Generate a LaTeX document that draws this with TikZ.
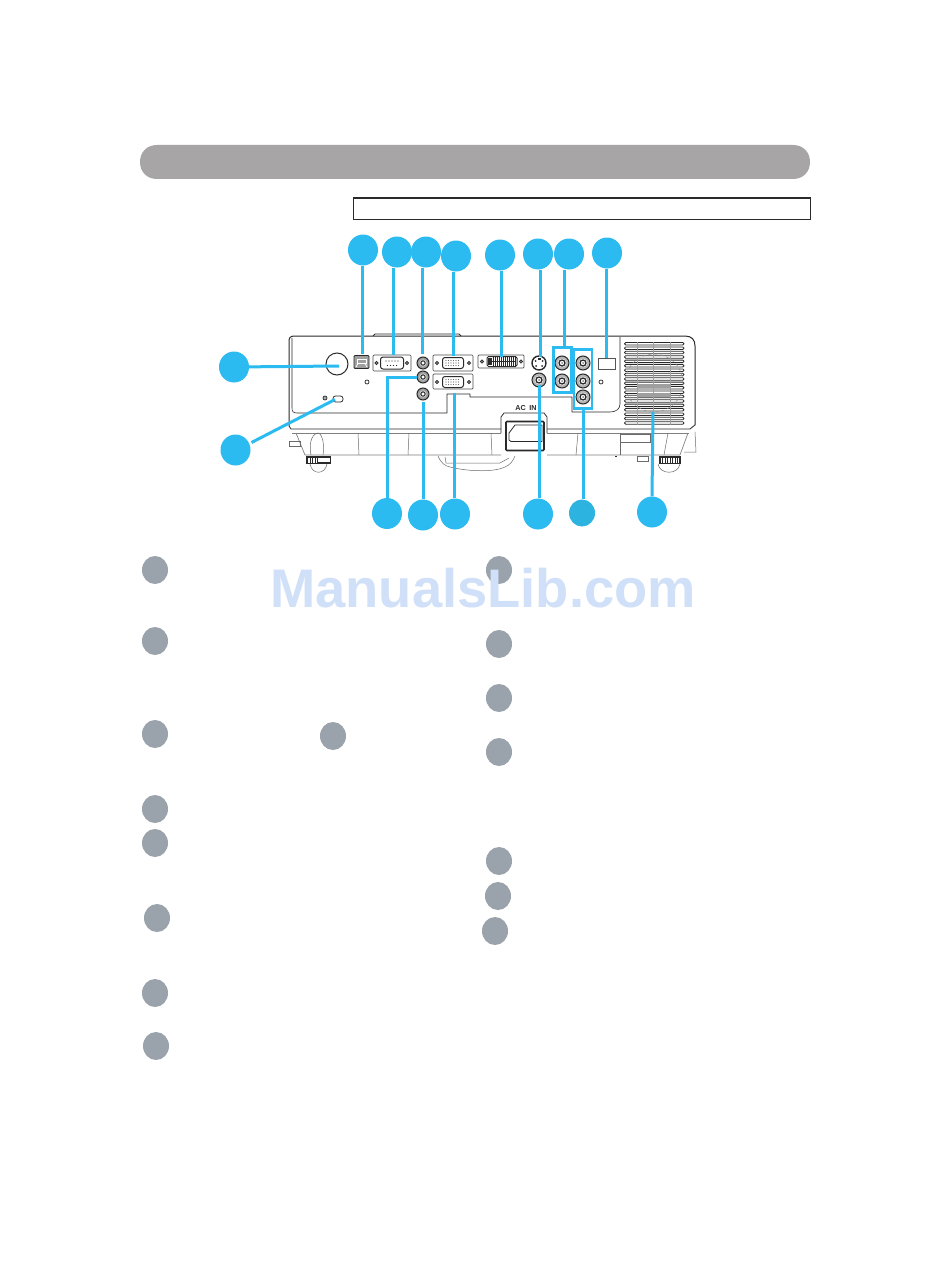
\documentclass[tikz,border=0pt]{standalone}
\usepackage{fontspec}
\setmainfont{Liberation Sans}
\usetikzlibrary{shapes.geometric}
\definecolor{bluec}{HTML}{2CBBF0}
\definecolor{blued}{HTML}{2DB3DF}
\definecolor{grayc}{HTML}{9AA2AB}
\definecolor{barc}{HTML}{A7A5A6}
\definecolor{wm}{HTML}{CFE0F8}
\definecolor{ink}{HTML}{2A2A2A}
\tikzset{
  callout/.style={ellipse,fill=bluec,inner sep=0pt,minimum width=30pt,minimum height=31pt},
  itemdot/.style={ellipse,fill=grayc,inner sep=0pt,minimum width=26pt,minimum height=28pt},
  lead/.style={draw=bluec,line width=3pt},
  body/.style={draw=ink,line width=.8pt,line join=round},
  skirt/.style={draw=ink!60,line width=.7pt,line join=round},
  thin part/.style={draw=ink!70,line width=.5pt},
  jackpart/.style={circle,draw=ink,fill=white,line width=1pt,inner sep=0pt},
  panelbox/.style={draw=ink!85,fill=white,line width=.7pt,rounded corners=1pt},
  shell/.style={draw=ink,fill=white,line width=1pt,rounded corners=2.5pt},
}
\newcommand{\rcajack}[3]{%
  \node[jackpart,minimum size=14pt,fill=ink!35] (#1) at (#2,#3) {};
  \fill[white] (#2,#3) circle (4.3pt);
  \draw[ink,line width=1.3pt] (#2,#3) circle (3pt);
  \fill[ink!60] (#2,#3) circle (1pt);
}
\newcommand{\minijack}[3]{%
  \node[jackpart,minimum size=12pt,fill=ink!45] (#1) at (#2,#3) {};
  \fill[white] (#2,#3) circle (3.4pt);
  \draw[ink,line width=1.1pt] (#2,#3) circle (2.2pt);
}
\newcommand{\screw}[2]{\draw[ink,fill=ink!50,line width=.6pt] (#1,#2) circle (1.6pt);}
\newcommand{\vgaport}[3]{%
  \node[shell,minimum width=21pt,minimum height=11pt,inner sep=0pt] (#1) at (#2,#3) {};
  \foreach \k in {-7,-4.5,...,7.1} {\fill[ink!70] (#2+\k,#3-2.5) circle (.55pt);\fill[ink!70] (#2+\k,#3) circle (.55pt);\fill[ink!70] (#2+\k,#3+2.5) circle (.55pt);}
}
\begin{document}
\begin{tikzpicture}[x=1pt,y=-1pt]
\useasboundingbox (0,0) rectangle (950,1284);
\fill[white] (0,0) rectangle (950,1284);
% header
\fill[barc] (157,145) -- (793,145) .. controls (803,145) and (810,152) .. (810,162) .. controls (810,172) and (803,179) .. (793,179) -- (157,179) .. controls (147,179) and (140,172) .. (140,162) .. controls (140,152) and (147,145) .. (157,145) -- cycle;
\node[draw=ink,line width=1pt,fill=white,minimum width=457pt,minimum height=21pt,inner sep=0pt] (frame) at (581.5,208.5) {};
% projector: top bump
\draw[body] (373,336) -- (375,334) -- (459,334) -- (461,336);
% body outline
\draw[body,line width=1pt] (289,426) -- (289,342) .. controls (289,337.5) and (290,336) .. (295,336) -- (685,336) .. controls (692,336) and (695,340) .. (695,346) -- (695,425);
\draw[body] (289,426) -- (291,429) -- (501,429);
\draw[body] (547,429) -- (690,429) -- (695,425);
\draw[skirt] (292,433) -- (501,433);
\draw[skirt] (547,433) -- (689,433);
% recessed panel
\draw[body,line width=.6pt] (292,338) -- (292,408) .. controls (292,411.5) and (293,413) .. (297,413) -- (447,413) -- (447,394) -- (470,394) -- (470,397) -- (567,397) -- (572,397) -- (572,412) -- (610,412) .. controls (616,412) and (620,409) .. (620,404) -- (620,337);
% skirt
\draw[skirt] (296,433) -- (305,455) -- (501,455);
\draw[skirt] (547,455) -- (680,455) -- (688,433);
\foreach \xa/\xb in {358/359,409/408,491/492,578/576,620/620,668/664} {\draw[thin part] (\xa,433) -- (\xb,455);}
\draw[thin part] (620,434) rectangle (650,442);
\draw[thin part] (311,455) .. controls (308,440) and (314,433) .. (318,433) .. controls (322,433) and (325,445) .. (323,455);
\draw[thin part] (289,441) rectangle (300,446);
\draw[thin part] (695,432) -- (696,452) -- (684,452);
% feet
\draw[thin part] (310,464) .. controls (312,475) and (325,475) .. (327,464);
\draw[thin part] (658,464) .. controls (660,475) and (678,475) .. (680,464);
\draw[ink,line width=1.2pt,fill=white] (307,457) rectangle (330.5,463.5);
\foreach \k in {310,312.5,315,317} {\draw[ink,line width=.9pt] (\k,457.5) -- (\k,463);}
\draw[ink,line width=1.8pt] (318,462.5) -- (330,462.5);
\draw[ink,line width=1.2pt,fill=white] (660,457) rectangle (680,463.5);
\foreach \k in {662.5,665,...,678} {\draw[ink,line width=.9pt] (\k,457.5) -- (\k,463);}
\draw[thin part] (637,456) rectangle (648,461);
\draw[ink,line width=1pt] (615,456.5) -- (617,456.5);
% lens bulge
\draw[thin part] (438,456) .. controls (441,463) and (445,466) .. (450,467) .. controls (470,472) and (495,472) .. (505,467) .. controls (510,465) and (513,461) .. (515,456);
\draw[thin part] (445,457) -- (446,463) -- (500,463) -- (509,458);
% AC inlet
\draw[body] (501,433) -- (501,417) -- (504,413) -- (544,413) -- (547,417) -- (547,433);
\node[font=\bfseries,text=ink,inner sep=0pt] (acin) at (526,408) {\fontsize{7.2}{8}\selectfont AC\hspace{3.5pt}IN};
\node[draw=ink,line width=1.6pt,fill=white,rounded corners=1pt,minimum width=38pt,minimum height=29pt,inner sep=0pt] (inlet) at (525,436) {};
\draw[body] (509,433) -- (515,425) -- (542,425) -- (542,441.5) -- (511,441.5) -- (509,440) -- cycle;
% IR sensor, lock
\node[circle,draw=ink,line width=1pt,minimum size=22pt,inner sep=0pt] (ir) at (337,364) {};
\node[circle,draw=ink,line width=.7pt,minimum size=4pt,inner sep=0pt] (dot1) at (367,382) {};
\node[circle,draw=ink,line width=.7pt,fill=ink!40,minimum size=4pt,inner sep=0pt] (lockdot) at (325,398) {};
\node[draw=ink,line width=.8pt,rounded corners=2.5pt,minimum width=10pt,minimum height=6pt,inner sep=0pt] (lock) at (338,399) {};
% USB
\node[draw=ink,fill=ink!45,line width=.8pt,rounded corners=1pt,minimum width=15pt,minimum height=13pt,inner sep=0pt] (usb) at (361.5,362) {};
\draw[white,line width=.8pt] (357,359) rectangle (366,363.5);
\draw[white,line width=.8pt] (356,367) -- (358,363.5) (367,367) -- (365,363.5);
% serial
\node[panelbox,minimum width=38pt,minimum height=16pt,inner sep=0pt] (serialp) at (392,363) {};
\screw{376.5}{363}\screw{407}{363}
\node[shell,minimum width=23pt,minimum height=12pt,inner sep=0pt] (serial) at (392,363) {};
\foreach \k in {-6,-3,...,6} {\fill[ink] (392+\k,361) circle (.7pt);}
\foreach \k in {-4.5,-1.5,...,4.6} {\fill[ink] (392+\k,365.5) circle (.7pt);}
% mini jacks
\minijack{ja}{423}{363}
\minijack{jb}{423}{377}
\minijack{jc}{423}{394}
% VGA
\node[panelbox,minimum width=40pt,minimum height=16pt,inner sep=0pt] (vgap1) at (453,363) {};
\node[panelbox,minimum width=40pt,minimum height=15pt,inner sep=0pt] (vgap2) at (453,381.5) {};
\screw{437}{363}\screw{469}{363}\screw{437}{382}\screw{469}{382}
\vgaport{vga1}{453}{363}
\vgaport{vga2}{453}{382}
% DVI
\node[panelbox,minimum width=46pt,minimum height=13pt,inner sep=0pt] (dvip) at (501,361.5) {};
\screw{482}{361.5}\screw{521}{361.5}
\node[draw=ink,fill=white,line width=1pt,rounded corners=1.5pt,minimum width=30pt,minimum height=10pt,inner sep=0pt] (dvi) at (502,361.5) {};
\foreach \k in {493.5,495.5,...,515.6} {\draw[ink,line width=.5pt] (\k,357) -- (\k,366);}
\draw[ink,line width=.5pt] (492,361.5) -- (516,361.5);
\fill[ink] (488,358) rectangle (492,365);
% S-video and video
\node[circle,draw=ink,line width=1.4pt,fill=white,minimum size=14pt,inner sep=0pt] (svideo) at (539,363) {};
\fill[ink] (535.5,361) circle (1pt) (542.5,361) circle (1pt) (536,366) circle (1pt) (542,366) circle (1pt);
\fill[ink] (537.5,358) rectangle (540.5,360);
\rcajack{video}{539}{380}
% RCA
\rcajack{ra}{562}{363}
\rcajack{rb}{562}{381}
\rcajack{ca}{583}{363}
\rcajack{cb}{583}{381}
\rcajack{cc}{583}{397}
% small box + dot
\node[draw=ink!80,line width=.6pt,minimum width=17pt,minimum height=11pt,inner sep=0pt] (lamp) at (606.5,363.5) {};
\node[circle,draw=ink,line width=.7pt,minimum size=4pt,inner sep=0pt] (dot2) at (601,382) {};
% vent
\foreach \k in {0,...,18} {\draw[ink,line width=.8pt,fill=white,rounded corners=1.2pt] (624.5,342.5+\k*4.4) rectangle (684,345+\k*4.4);}
\fill[ink!45] (637,384) rectangle (670,388);
\fill[ink!45] (637,393) rectangle (670,397);
\foreach \k in {637,653,670} {\draw[ink!45,line width=.9pt] (\k,342) -- (\k,425);}
\draw[ink!55,line width=.5pt,dashed] (654,383) circle (29pt);
\coordinate (vent) at (653,412);
% highlight frames
\node[draw=bluec,line width=2.8pt,minimum width=18pt,minimum height=45pt,inner sep=0pt] (pair) at (562.5,370) {};
\node[draw=bluec,line width=2.8pt,minimum width=18pt,minimum height=59pt,inner sep=0pt] (trio) at (583,379) {};
% callouts top
\node[callout] (t1) at (363,250) {};
\node[callout] (t2) at (397,252) {};
\node[callout] (t3) at (426,252) {};
\node[callout] (t4) at (456,256) {};
\node[callout] (t5) at (500,255) {};
\node[callout] (t6) at (538,254) {};
\node[callout] (t7) at (569,254) {};
\node[callout] (t8) at (607,253) {};
\node[callout] (l1) at (234,367) {};
\node[callout] (l2) at (235.5,450) {};
\node[callout] (b1) at (387,513.5) {};
\node[callout] (b2) at (423,515) {};
\node[callout] (b3) at (455,514) {};
\node[callout] (b4) at (538,514) {};
\node[callout,fill=blued,minimum width=26pt,minimum height=27pt] (b5) at (582,513) {};
\node[callout] (b6) at (652,512) {};
% leader ends
\coordinate (e1) at (362.5,354);
\coordinate (e2) at (393,355);
\coordinate (e3) at (422,354);
\coordinate (e4) at (453,356);
\coordinate (e5) at (501,357);
\coordinate (e6) at (540,357);
\coordinate (e7) at (564,347);
\coordinate (e8) at (606,358);
\coordinate (e9) at (339,366);
\coordinate (e10) at (335,399.5);
\coordinate (e11) at (417,377);
\coordinate (e11a) at (387,377);
\coordinate (e12) at (423,402);
\coordinate (e13) at (454,393);
\coordinate (e14) at (539.5,385);
\coordinate (e15) at (583,409);
\draw[lead] (e1 |- t1.south) -- (e1);
\draw[lead] (e2 |- t2.south) -- (e2);
\draw[lead] (e3 |- t3.south) -- (e3);
\draw[lead] (e4 |- t4.south) -- (e4);
\draw[lead] (e5 |- t5.south) -- (e5);
\draw[lead] (e6 |- t6.south) -- (e6);
\draw[lead] (e7 |- t7.south) -- (e7);
\draw[lead] (e8 |- t8.south) -- (e8);
\draw[lead] (l1.center) -- (e9);
\draw[lead] (l2.center) ++(16,-7.5) -- (e10);
\draw[lead] (b1.north) -- (e11a) -- (e11);
\draw[lead] (b2.north) -- (e12);
\draw[lead] (e13 |- b3.north) -- (e13);
\draw[lead] (e14 |- b4.north) -- (e14);
\draw[lead] (e15 |- b5.north) -- (e15);
\draw[lead] (b6.north) -- (vent);
% list markers
\node[itemdot] (i1) at (155,570) {};
\node[itemdot] (i2) at (155,641) {};
\node[itemdot] (i3) at (155,734) {};
\node[itemdot] (i4) at (333,736) {};
\node[itemdot] (i5) at (155,809) {};
\node[itemdot] (i6) at (155,843) {};
\node[itemdot] (i7) at (157,918) {};
\node[itemdot] (i8) at (155,993) {};
\node[itemdot] (i9) at (156,1046) {};
\node[itemdot] (j1) at (499,570) {};
\node[itemdot] (j2) at (499,644) {};
\node[itemdot] (j3) at (499,698) {};
\node[itemdot] (j4) at (499,752) {};
\node[itemdot] (j5) at (499,861) {};
\node[itemdot] (j6) at (498,896) {};
\node[itemdot] (j7) at (495,931) {};
% watermark
\node[text=wm,font=\bfseries,inner sep=0pt,anchor=base] (mark) at (483,607) {\fontsize{54.3}{60}\selectfont ManualsLib.com};
\end{tikzpicture}
\end{document}
